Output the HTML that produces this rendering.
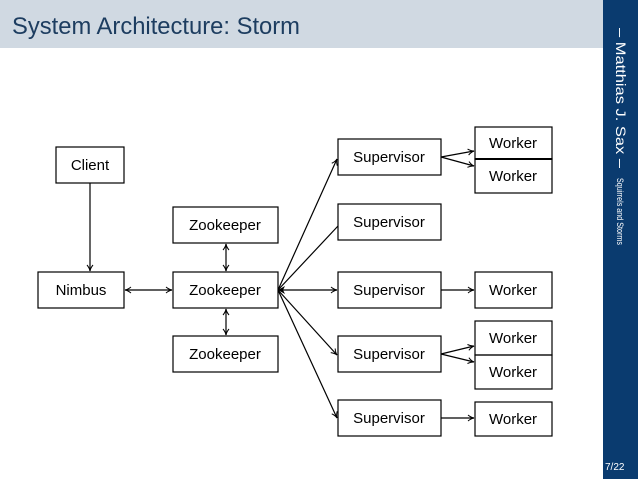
<!DOCTYPE html>
<html><head><style>
body{margin:0;width:638px;height:479px;overflow:hidden;background:#fff;font-family:"Liberation Sans","DejaVu Sans",sans-serif;}
</style></head><body>
<svg width="638" height="479" xmlns="http://www.w3.org/2000/svg" style="position:absolute;left:0;top:0">
<defs>
<marker id="a" markerWidth="8" markerHeight="8" refX="7" refY="4" orient="auto-start-reverse" markerUnits="userSpaceOnUse">
<path d="M1,1 Q4,3.5 7,4 Q4,4.5 1,7" fill="none" stroke="#000" stroke-width="1"/></marker>
</defs>
<rect x="0" y="0" width="603" height="48" fill="#d0d9e2"/>
<text x="12" y="34" font-size="24" fill="#1d3d60" textLength="288" lengthAdjust="spacingAndGlyphs">System Architecture: Storm</text>
<rect x="603" y="0" width="35" height="479" fill="#0a3b6f"/>
<text transform="translate(616,28) rotate(90)" font-size="14" fill="#fff" textLength="140" lengthAdjust="spacingAndGlyphs">– Matthias J. Sax –</text>
<text transform="translate(617,178) rotate(90)" font-size="9" fill="#fff" textLength="67" lengthAdjust="spacingAndGlyphs">Squirrels and Storms</text>
<text x="605" y="470" font-size="10" fill="#fff">7/22</text>
<g fill="none" stroke="#000" stroke-width="1.2">
<rect x="56" y="147" width="68" height="36"/>
<rect x="38" y="272" width="86" height="36"/>
<rect x="173" y="207" width="105" height="36"/>
<rect x="173" y="272" width="105" height="36"/>
<rect x="173" y="336" width="105" height="36"/>
<rect x="338" y="139" width="103" height="36"/>
<rect x="338" y="204" width="103" height="36"/>
<rect x="338" y="272" width="103" height="36"/>
<rect x="338" y="336" width="103" height="36"/>
<rect x="338" y="400" width="103" height="36"/>
<rect x="475" y="127" width="77" height="32"/>
<rect x="475" y="159" width="77" height="34"/>
<line x1="475" y1="159" x2="552" y2="159" stroke-width="2"/>
<rect x="475" y="272" width="77" height="36"/>
<rect x="475" y="321" width="77" height="34"/>
<rect x="475" y="355" width="77" height="34"/>
<rect x="475" y="402" width="77" height="34"/>
<line x1="90" y1="183" x2="90" y2="271" marker-end="url(#a)"/>
<line x1="125" y1="290" x2="172" y2="290" marker-end="url(#a)" marker-start="url(#a)"/>
<line x1="226" y1="244" x2="226" y2="271" marker-end="url(#a)" marker-start="url(#a)"/>
<line x1="226" y1="309" x2="226" y2="335" marker-end="url(#a)" marker-start="url(#a)"/>
<line x1="278" y1="290" x2="337" y2="159" marker-end="url(#a)"/>
<line x1="278" y1="290" x2="338" y2="226"/>
<line x1="278" y1="290" x2="337" y2="290" marker-end="url(#a)"/>
<line x1="278" y1="290" x2="337" y2="355" marker-end="url(#a)"/>
<line x1="278" y1="290" x2="337" y2="418" marker-end="url(#a)"/>
<line x1="441" y1="157" x2="474" y2="151" marker-end="url(#a)"/>
<line x1="441" y1="157" x2="474" y2="166" marker-end="url(#a)"/>
<line x1="441" y1="290" x2="474" y2="290" marker-end="url(#a)"/>
<line x1="441" y1="354" x2="474" y2="346" marker-end="url(#a)"/>
<line x1="441" y1="354" x2="474" y2="362" marker-end="url(#a)"/>
<line x1="441" y1="418" x2="474" y2="418" marker-end="url(#a)"/>
</g>
<path d="M278,290 l7,-4 l-2,4 l2,4z" fill="#000"/>
<g font-size="15" fill="#000" text-anchor="middle">
<text x="90" y="170">Client</text>
<text x="81" y="295">Nimbus</text>
<text x="225" y="230">Zookeeper</text>
<text x="225" y="295">Zookeeper</text>
<text x="225" y="359">Zookeeper</text>
<text x="389" y="162">Supervisor</text>
<text x="389" y="227">Supervisor</text>
<text x="389" y="295">Supervisor</text>
<text x="389" y="359">Supervisor</text>
<text x="389" y="423">Supervisor</text>
<text x="513" y="148">Worker</text>
<text x="513" y="181">Worker</text>
<text x="513" y="295">Worker</text>
<text x="513" y="343">Worker</text>
<text x="513" y="377">Worker</text>
<text x="513" y="424">Worker</text>
</g>
</svg>
</body></html>
